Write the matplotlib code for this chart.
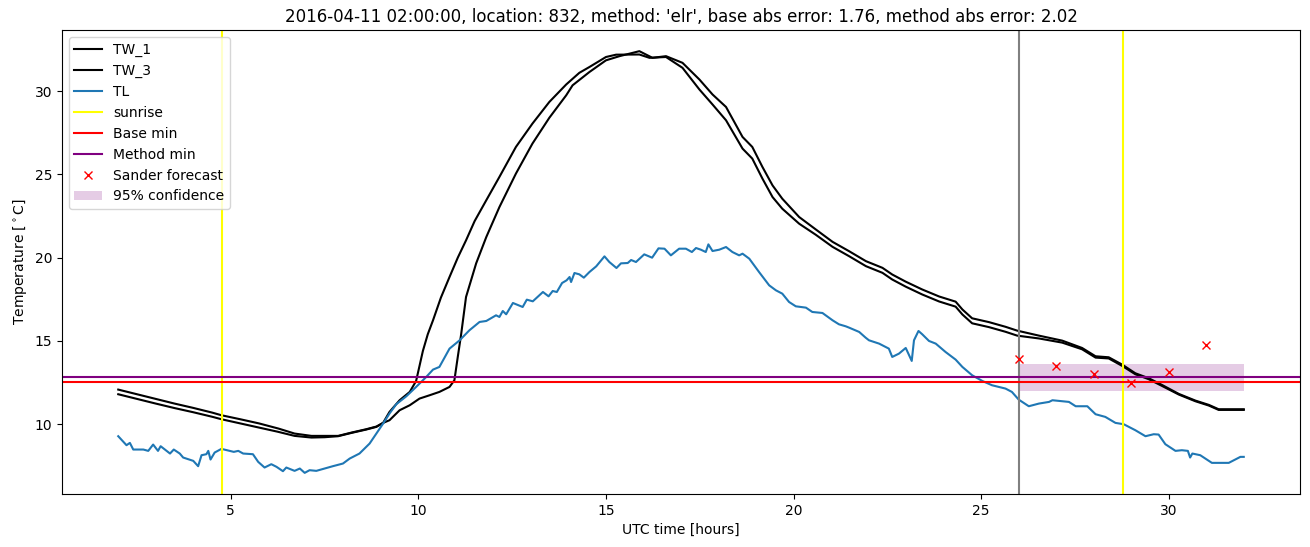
#!/usr/bin/env python3
"""
Road / air temperature overnight minimum plot for one location
"""

import matplotlib
matplotlib.use("Agg")
import matplotlib.pyplot as plt

# TW_1 (wet bulb, first sensor)
tw1_hours = [2.0, 2.5, 3.0, 3.5, 4.0, 4.5, 4.75, 5.25, 5.75, 6.25, 6.7, 7.15, 7.5, 7.86,
             8.22, 8.61, 8.88, 9.06, 9.23, 9.5, 9.77, 9.94, 10.0, 10.12, 10.25, 10.39,
             10.6, 10.83, 11.05, 11.27, 11.5, 11.81, 12.16, 12.6, 13.04, 13.49, 13.94,
             14.29, 14.56, 15.0, 15.27, 15.89, 16.16, 16.6, 17.04, 17.49, 17.84, 18.2,
             18.64, 18.9, 19.17, 19.44, 19.7, 20.15, 20.59, 21.04, 21.48, 21.93, 22.37,
             22.63, 22.99, 23.43, 23.88, 24.32, 24.5, 24.76, 25.21, 25.65, 25.96, 26.54,
             27.16, 27.69, 28.05, 28.4, 28.76, 29.11, 29.47, 29.82, 30.27, 30.71, 31.07,
             31.33, 32.0]
tw1_temp = [11.80, 11.52, 11.24, 10.97, 10.72, 10.45, 10.30, 10.05, 9.80, 9.55, 9.30, 9.20,
            9.22, 9.28, 9.48, 9.68, 9.84, 10.08, 10.74, 11.44, 11.94, 12.60, 13.20, 14.40,
            15.40, 16.24, 17.60, 18.84, 20.00, 21.04, 22.20, 23.45, 24.85, 26.65, 28.05,
            29.35, 30.40, 31.10, 31.45, 32.05, 32.19, 32.20, 32.00, 32.05, 31.40, 30.10,
            29.20, 28.25, 26.55, 25.95, 24.75, 23.64, 22.94, 22.04, 21.38, 20.65, 20.09,
            19.49, 19.09, 18.69, 18.26, 17.79, 17.37, 17.06, 16.59, 16.06, 15.83, 15.55,
            15.32, 15.15, 14.90, 14.50, 14.00, 13.95, 13.50, 13.00, 12.70, 12.30, 11.78,
            11.38, 11.12, 10.86, 10.86]

# TW_3 (wet bulb, third sensor) - lags TW_1
tw3_hours = [2.0, 2.5, 3.0, 3.5, 4.0, 4.5, 4.75, 5.25, 5.75, 6.27, 6.7, 7.15, 7.5, 7.86,
             8.22, 8.61, 8.88, 9.06, 9.23, 9.5, 9.77, 10.03, 10.3, 10.56, 10.83, 10.96,
             11.05, 11.14, 11.27, 11.54, 11.81, 12.16, 12.6, 13.04, 13.49, 13.94, 14.11,
             14.56, 15.0, 15.36, 15.89, 16.24, 16.6, 17.04, 17.49, 17.84, 18.2, 18.64,
             18.9, 19.17, 19.44, 19.7, 20.15, 20.59, 21.04, 21.48, 21.93, 22.37, 22.63,
             22.99, 23.43, 23.88, 24.32, 24.5, 24.76, 25.21, 25.65, 25.96, 26.54, 27.16,
             27.69, 28.05, 28.4, 28.76, 29.11, 29.47, 29.82, 30.27, 30.71, 31.07, 31.33,
             32.0]
tw3_temp = [12.08, 11.80, 11.52, 11.24, 10.98, 10.70, 10.54, 10.30, 10.05, 9.74, 9.44, 9.30,
            9.30, 9.30, 9.50, 9.70, 9.86, 10.08, 10.24, 10.84, 11.14, 11.54, 11.74, 11.94,
            12.24, 12.64, 14.04, 15.40, 17.64, 19.66, 21.24, 23.04, 25.05, 26.85, 28.40,
            29.75, 30.35, 31.15, 31.85, 32.10, 32.40, 32.00, 32.10, 31.70, 30.70, 29.80,
            29.05, 27.25, 26.65, 25.45, 24.34, 23.54, 22.44, 21.70, 20.95, 20.39, 19.79,
            19.39, 18.99, 18.56, 18.09, 17.67, 17.36, 16.89, 16.36, 16.13, 15.85, 15.62,
            15.32, 15.02, 14.58, 14.08, 14.02, 13.58, 13.06, 12.76, 12.36, 11.82, 11.42,
            11.16, 10.90, 10.90]

# TL (air temperature)
tl_hours = [2.0, 2.22, 2.31, 2.4, 2.67, 2.8, 2.93, 3.06, 3.13, 3.38, 3.48, 3.64, 3.73, 4.0,
            4.13, 4.22, 4.35, 4.4, 4.46, 4.57, 4.75, 4.97, 5.08, 5.2, 5.33, 5.59, 5.73,
            5.9, 6.08, 6.22, 6.39, 6.48, 6.7, 6.84, 6.97, 7.1, 7.28, 7.72, 7.99, 8.17,
            8.43, 8.7, 8.88, 9.06, 9.23, 9.41, 9.68, 9.94, 10.21, 10.39, 10.56, 10.83,
            11.1, 11.36, 11.63, 11.81, 12.07, 12.16, 12.25, 12.34, 12.52, 12.78, 12.89,
            13.05, 13.32, 13.47, 13.58, 13.69, 13.83, 13.95, 14.03, 14.07, 14.16, 14.29,
            14.41, 14.56, 14.74, 14.96, 15.09, 15.28, 15.4, 15.58, 15.67, 15.8, 16.02,
            16.23, 16.4, 16.56, 16.73, 16.95, 17.13, 17.29, 17.4, 17.53, 17.66, 17.73,
            17.84, 18.02, 18.2, 18.37, 18.55, 18.64, 18.82, 19.08, 19.35, 19.53, 19.7,
            19.88, 20.06, 20.33, 20.5, 20.77, 21.04, 21.21, 21.39, 21.48, 21.75, 21.92,
            22.01, 22.28, 22.54, 22.63, 22.81, 22.99, 23.15, 23.21, 23.33, 23.43, 23.61,
            23.79, 24.05, 24.32, 24.5, 24.76, 25.03, 25.29, 25.65, 25.82, 26.0, 26.27,
            26.54, 26.81, 26.9, 27.34, 27.52, 27.83, 28.05, 28.31, 28.58, 28.8, 29.11,
            29.38, 29.6, 29.73, 29.91, 30.18, 30.35, 30.51, 30.57, 30.63, 30.84, 31.15,
            31.6, 31.91, 32.0]
tl_temp = [9.28, 8.74, 8.88, 8.48, 8.48, 8.40, 8.78, 8.40, 8.68, 8.24, 8.48, 8.24, 8.00,
           7.80, 7.48, 8.14, 8.20, 8.40, 7.88, 8.30, 8.52, 8.40, 8.34, 8.40, 8.24, 8.20,
           7.74, 7.40, 7.60, 7.44, 7.18, 7.40, 7.20, 7.34, 7.08, 7.24, 7.20, 7.48, 7.64,
           7.94, 8.24, 8.84, 9.44, 10.04, 10.64, 11.20, 11.68, 12.24, 12.84, 13.28, 13.44,
           14.54, 15.04, 15.64, 16.14, 16.20, 16.54, 16.44, 16.80, 16.60, 17.28, 17.04,
           17.48, 17.38, 17.94, 17.68, 18.00, 17.94, 18.48, 18.64, 18.84, 18.54, 19.08,
           19.00, 18.80, 19.14, 19.48, 20.08, 19.74, 19.38, 19.66, 19.68, 19.86, 19.74,
           20.20, 20.00, 20.56, 20.54, 20.14, 20.54, 20.54, 20.34, 20.58, 20.48, 20.34,
           20.80, 20.40, 20.48, 20.64, 20.34, 20.14, 20.24, 19.94, 19.14, 18.34, 18.04,
           17.84, 17.34, 17.08, 17.00, 16.74, 16.68, 16.24, 16.00, 15.88, 15.80, 15.54,
           15.20, 15.04, 14.84, 14.54, 14.04, 14.24, 14.58, 13.80, 15.04, 15.60, 15.40,
           15.00, 14.84, 14.34, 13.88, 13.44, 12.94, 12.60, 12.34, 12.14, 11.94, 11.48,
           11.08, 11.24, 11.34, 11.44, 11.34, 11.08, 11.08, 10.60, 10.44, 10.08, 10.00,
           9.64, 9.28, 9.40, 9.38, 8.80, 8.40, 8.44, 8.40, 8.00, 8.24, 8.14, 7.68, 7.68,
           8.04, 8.04]

# markers / reference values
sunrise_hours = [4.77, 28.78]
forecast_start = 26.0
base_min = 12.56
method_min = 12.82
sander_hours = [26, 27, 28, 29, 30, 31]
sander_temp = [13.94, 13.48, 13.00, 12.50, 13.12, 14.74]
conf_hours = [26.0, 32.0]
conf_low = [12.02, 12.02]
conf_high = [13.62, 13.62]

title = ("2016-04-11 02:00:00, location: 832, method: 'elr', "
         "base abs error: 1.76, method abs error: 2.02")


def main():
    fig = plt.figure(figsize=(13.1, 5.47), dpi=100)
    ax = fig.add_axes([0.0473, 0.097, 0.9451, 0.848])

    ax.plot(tw1_hours, tw1_temp, color="black", label="TW_1")
    ax.plot(tw3_hours, tw3_temp, color="black", label="TW_3")
    ax.plot(tl_hours, tl_temp, color="C0", label="TL")

    for i, h in enumerate(sunrise_hours):
        ax.axvline(h, color="yellow", label="sunrise" if i == 0 else None)
    ax.axvline(forecast_start, color="gray")

    ax.axhline(base_min, color="red", label="Base min")
    ax.axhline(method_min, color="purple", label="Method min")
    ax.plot(sander_hours, sander_temp, "x", color="red", label="Sander forecast")
    ax.fill_between(conf_hours, conf_low, conf_high, color="purple", alpha=0.2,
                    linewidth=0, label="95% confidence")

    ax.set_title(title)
    ax.set_xlabel("UTC time [hours]")
    ax.set_ylabel(r"Temperature [$^\circ$C]")
    ax.legend(loc="upper left")

    fig.savefig("out.png")
    plt.close(fig)


if __name__ == "__main__":
    main()
